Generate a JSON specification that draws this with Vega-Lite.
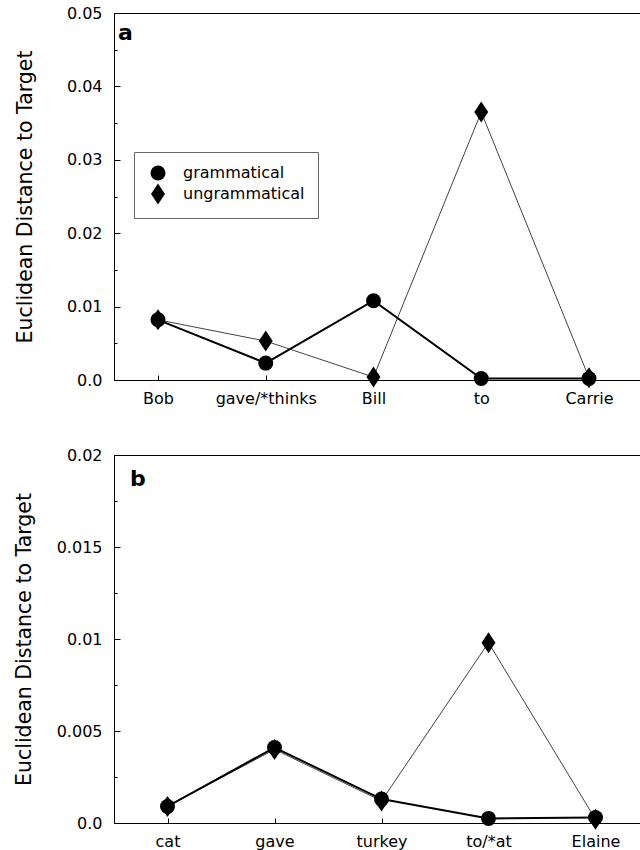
{
  "$schema": "https://vega.github.io/schema/vega-lite/v6.json",
  "padding": {"left": 13, "top": 4, "right": 0, "bottom": 0},
  "background": "white",
  "config": {
    "font": "DejaVu Sans",
    "view": {"stroke": "#000", "strokeWidth": 1},
    "axis": {"domainColor": "#000", "tickColor": "#000", "labelColor": "#000", "titleColor": "#000", "grid": false, "labelFont": "DejaVu Sans", "titleFont": "DejaVu Sans", "labelFontSize": 16, "titleFontSize": 20.5, "titleFontWeight": "normal"},
    "title": {"font": "DejaVu Sans", "color": "#000"}
  },
  "spacing": 39,
  "vconcat": [
    {
      "width": 526,
      "height": 367,
      "title": {"text": "a", "anchor": "start", "frame": "group", "offset": -40, "dx": 4, "fontSize": 22, "fontWeight": "bold"},
      "data": {"values": [
        {"word": "Bob", "series": "grammatical", "dist": 0.0082},
        {"word": "gave/*thinks", "series": "grammatical", "dist": 0.0023},
        {"word": "Bill", "series": "grammatical", "dist": 0.0108},
        {"word": "to", "series": "grammatical", "dist": 0.0002},
        {"word": "Carrie", "series": "grammatical", "dist": 0.0002},
        {"word": "Bob", "series": "ungrammatical", "dist": 0.0082},
        {"word": "gave/*thinks", "series": "ungrammatical", "dist": 0.0053},
        {"word": "Bill", "series": "ungrammatical", "dist": 0.0004},
        {"word": "to", "series": "ungrammatical", "dist": 0.0365},
        {"word": "Carrie", "series": "ungrammatical", "dist": 0.0003}
      ]},
      "encoding": {
        "x": {"field": "word", "type": "nominal", "sort": ["Bob", "gave/*thinks", "Bill", "to", "Carrie"], "scale": {"type": "point", "padding": 0, "range": [44, 475]}, "axis": {"title": null, "labelAngle": 0, "tickSize": -5, "labelPadding": 15}},
        "y": {"field": "dist", "type": "quantitative", "scale": {"domain": [0, 0.05], "nice": false}, "axis": {"title": "Euclidean Distance to Target", "values": [0, 0.005, 0.01, 0.015, 0.02, 0.025, 0.03, 0.035, 0.04, 0.045, 0.05], "labelExpr": "datum.value == 0 ? '0.0' : (round(datum.value*1000) % 10 == 0 ? format(datum.value, '~g') : '')", "tickSize": {"condition": {"test": "round(datum.value*1000) % 10 == 0", "value": -6}, "value": -3}, "labelPadding": 18, "titlePadding": 31}}
      },
      "layer": [
        {
          "transform": [{"filter": "datum.series == 'ungrammatical'"}],
          "mark": {"type": "line", "color": "#111", "strokeWidth": 0.8}
        },
        {
          "transform": [{"filter": "datum.series == 'grammatical'"}],
          "mark": {"type": "line", "color": "#000", "strokeWidth": 2}
        },
        {
          "mark": {"type": "point", "filled": true, "color": "#000", "opacity": 1, "size": 225},
          "encoding": {
            "shape": {"field": "series", "type": "nominal", "scale": {"domain": ["grammatical", "ungrammatical"], "range": ["circle", "M0,-1.4L0.93,0L0,1.4L-0.93,0Z"]}, "legend": {"orient": "none", "legendX": 20, "legendY": 139, "title": null, "strokeColor": "#666", "fillColor": "white", "padding": 13, "labelFontSize": 16, "labelFont": "DejaVu Sans", "labelColor": "#000", "symbolSize": 225, "symbolFillColor": "#000", "symbolStrokeColor": "#000", "symbolStrokeWidth": 0, "rowPadding": 2, "labelOffset": 17, "symbolOffset": 3}}
          }
        }
      ]
    },
    {
      "width": 535,
      "height": 368,
      "title": {"text": "b", "anchor": "start", "frame": "group", "offset": -44, "dx": 16, "fontSize": 22, "fontWeight": "bold"},
      "data": {"values": [
        {"word": "cat", "series": "grammatical", "dist": 0.0009},
        {"word": "gave", "series": "grammatical", "dist": 0.0041},
        {"word": "turkey", "series": "grammatical", "dist": 0.0013},
        {"word": "to/*at", "series": "grammatical", "dist": 0.00025},
        {"word": "Elaine", "series": "grammatical", "dist": 0.0003},
        {"word": "cat", "series": "ungrammatical", "dist": 0.0009},
        {"word": "gave", "series": "ungrammatical", "dist": 0.004},
        {"word": "turkey", "series": "ungrammatical", "dist": 0.0012},
        {"word": "to/*at", "series": "ungrammatical", "dist": 0.0098},
        {"word": "Elaine", "series": "ungrammatical", "dist": 0.0002}
      ]},
      "encoding": {
        "x": {"field": "word", "type": "nominal", "sort": ["cat", "gave", "turkey", "to/*at", "Elaine"], "scale": {"type": "point", "padding": 0.5}, "axis": {"title": null, "labelAngle": 0, "tickSize": -5, "labelPadding": 15}},
        "y": {"field": "dist", "type": "quantitative", "scale": {"domain": [0, 0.02], "nice": false}, "axis": {"title": "Euclidean Distance to Target", "values": [0, 0.0025, 0.005, 0.0075, 0.01, 0.0125, 0.015, 0.0175, 0.02], "labelExpr": "datum.value == 0 ? '0.0' : (round(datum.value*10000) % 50 == 0 ? format(datum.value, '~g') : '')", "tickSize": {"condition": {"test": "round(datum.value*10000) % 50 == 0", "value": -6}, "value": -3}, "labelPadding": 18, "titlePadding": 22}}
      },
      "layer": [
        {
          "transform": [{"filter": "datum.series == 'ungrammatical'"}],
          "mark": {"type": "line", "color": "#111", "strokeWidth": 0.8}
        },
        {
          "transform": [{"filter": "datum.series == 'grammatical'"}],
          "mark": {"type": "line", "color": "#000", "strokeWidth": 2}
        },
        {
          "mark": {"type": "point", "filled": true, "color": "#000", "opacity": 1, "size": 225},
          "encoding": {
            "shape": {"field": "series", "type": "nominal", "scale": {"domain": ["grammatical", "ungrammatical"], "range": ["circle", "M0,-1.4L0.93,0L0,1.4L-0.93,0Z"]}, "legend": {"orient": "none", "legendX": 29, "legendY": 140, "title": null, "strokeColor": "#666", "fillColor": "white", "padding": 13, "labelFontSize": 16, "labelFont": "DejaVu Sans", "labelColor": "#000", "symbolSize": 225, "symbolFillColor": "#000", "symbolStrokeColor": "#000", "symbolStrokeWidth": 0, "rowPadding": 2, "labelOffset": 17, "symbolOffset": 3}}
          }
        }
      ]
    }
  ]
}
